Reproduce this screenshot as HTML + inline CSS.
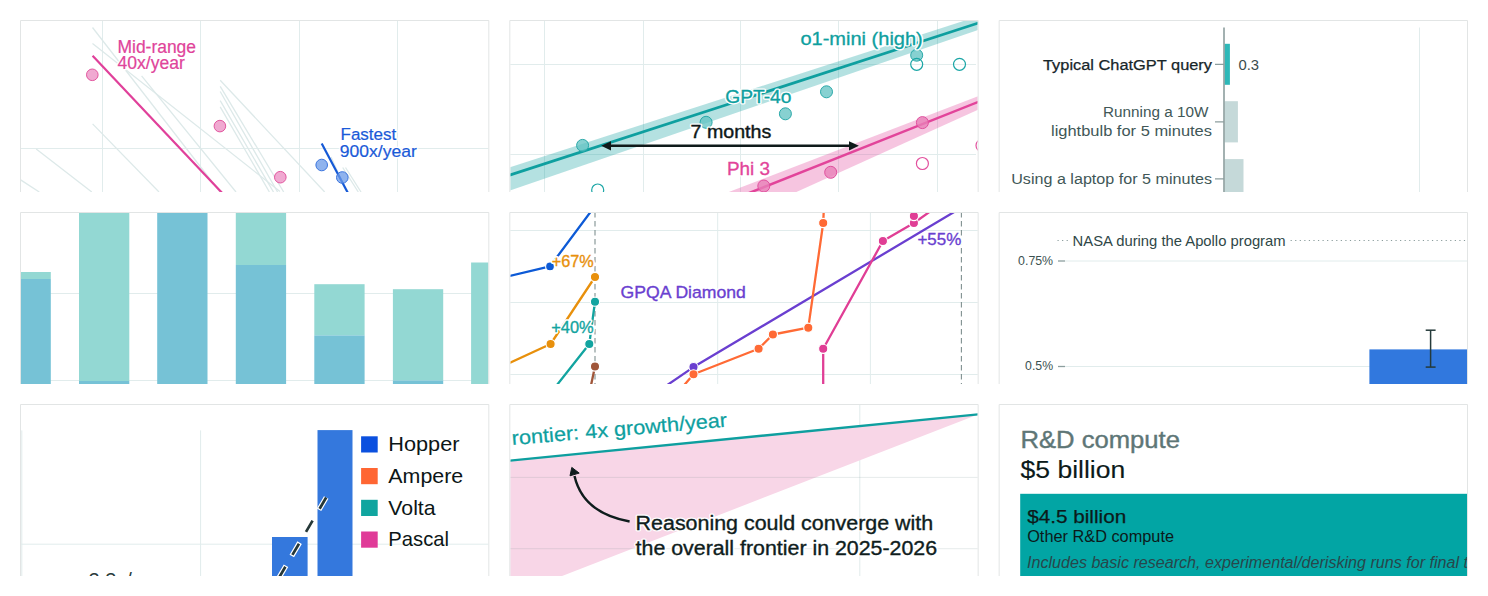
<!DOCTYPE html><html><head><meta charset="utf-8"><style>html,body{margin:0;padding:0;background:#fff;}svg{display:block;font-family:"Liberation Sans",sans-serif;}</style></head><body>
<svg width="1488" height="596" viewBox="0 0 1488 596">
<defs>
<clipPath id="c00"><rect x="21" y="21" width="467.333" height="171"/></clipPath>
<clipPath id="c01"><rect x="510.333" y="21" width="467.334" height="171"/></clipPath>
<clipPath id="c02"><rect x="999.667" y="21" width="467.33299999999997" height="171"/></clipPath>
<clipPath id="c10"><rect x="21" y="213" width="467.333" height="171"/></clipPath>
<clipPath id="c11"><rect x="510.333" y="213" width="467.334" height="171"/></clipPath>
<clipPath id="c12"><rect x="999.667" y="213" width="467.33299999999997" height="171"/></clipPath>
<clipPath id="c20"><rect x="21" y="405" width="467.333" height="171"/></clipPath>
<clipPath id="c21"><rect x="510.333" y="405" width="467.334" height="171"/></clipPath>
<clipPath id="c22"><rect x="999.667" y="405" width="467.33299999999997" height="171"/></clipPath>
</defs>
<rect width="1488" height="596" fill="#fff"/>
<g clip-path="url(#c00)">
<line x1="102.5" y1="20" x2="102.5" y2="192" stroke="#e1ecec" stroke-width="1"/>
<line x1="200.5" y1="20" x2="200.5" y2="192" stroke="#e1ecec" stroke-width="1"/>
<line x1="299.5" y1="20" x2="299.5" y2="192" stroke="#e1ecec" stroke-width="1"/>
<line x1="397.5" y1="20" x2="397.5" y2="192" stroke="#e1ecec" stroke-width="1"/>
<line x1="20" y1="148.5" x2="489" y2="148.5" stroke="#e1ecec" stroke-width="1"/>
<line x1="92.5" y1="27.5" x2="220" y2="192" stroke="#dde9e9" stroke-width="1.3"/>
<line x1="92.5" y1="43.4" x2="280" y2="191.5" stroke="#dde9e9" stroke-width="1.3"/>
<line x1="141.6" y1="75.8" x2="236" y2="192" stroke="#dde9e9" stroke-width="1.3"/>
<line x1="92.6" y1="123.9" x2="159" y2="192" stroke="#dde9e9" stroke-width="1.3"/>
<line x1="36.2" y1="149.1" x2="91.8" y2="192" stroke="#dde9e9" stroke-width="1.3"/>
<line x1="20" y1="179.5" x2="39.3" y2="192" stroke="#dde9e9" stroke-width="1.3"/>
<line x1="220.2" y1="80.2" x2="324.7" y2="192" stroke="#dde9e9" stroke-width="1.3"/>
<line x1="220.2" y1="86.4" x2="283.7" y2="192" stroke="#dde9e9" stroke-width="1.3"/>
<line x1="220.2" y1="91.5" x2="277.6" y2="192" stroke="#dde9e9" stroke-width="1.3"/>
<line x1="220.2" y1="100.7" x2="273.5" y2="192" stroke="#dde9e9" stroke-width="1.3"/>
<line x1="220.2" y1="106.9" x2="269.4" y2="192" stroke="#dde9e9" stroke-width="1.3"/>
<line x1="331" y1="157" x2="347" y2="192" stroke="#dde9e9" stroke-width="1.3"/>
<line x1="342.7" y1="167.5" x2="358.3" y2="192" stroke="#dde9e9" stroke-width="1.3"/>
<line x1="345.5" y1="167.5" x2="361" y2="192" stroke="#dde9e9" stroke-width="1.3"/>
<line x1="92.6" y1="55.7" x2="225" y2="196" stroke="#e0409a" stroke-width="2.2"/>
<circle cx="92.3" cy="74.8" r="5.8" fill="#f0a9d1" stroke="#e2579f" stroke-width="1"/>
<circle cx="219.9" cy="126.1" r="5.8" fill="#f0a9d1" stroke="#e2579f" stroke-width="1"/>
<circle cx="280.3" cy="177.2" r="5.8" fill="#f0a9d1" stroke="#e2579f" stroke-width="1"/>
<line x1="321.7" y1="143.5" x2="349" y2="195" stroke="#1559d6" stroke-width="2.2"/>
<circle cx="321.7" cy="165" r="5.8" fill="#6a9ae8" fill-opacity="0.75" stroke="#3a74de" stroke-width="1"/>
<circle cx="342.3" cy="177.5" r="5.8" fill="#6a9ae8" fill-opacity="0.75" stroke="#3a74de" stroke-width="1"/>
<text x="117.5" y="52.8" font-size="17.5" fill="#e0449a" textLength="78.5" lengthAdjust="spacingAndGlyphs" stroke="#fff" stroke-width="3" stroke-linejoin="round" >Mid-range</text>
<text x="117.5" y="52.8" font-size="17.5" fill="#e0449a" textLength="78.5" lengthAdjust="spacingAndGlyphs" stroke="#e0449a" stroke-width="0.2" >Mid-range</text>
<text x="117.5" y="69.4" font-size="17.5" fill="#e0449a" textLength="67.3" lengthAdjust="spacingAndGlyphs" stroke="#fff" stroke-width="3" stroke-linejoin="round" >40x/year</text>
<text x="117.5" y="69.4" font-size="17.5" fill="#e0449a" textLength="67.3" lengthAdjust="spacingAndGlyphs" stroke="#e0449a" stroke-width="0.2" >40x/year</text>
<text x="340.5" y="139.7" font-size="16.8" fill="#1a5ad8" textLength="55.8" lengthAdjust="spacingAndGlyphs" stroke="#fff" stroke-width="3" stroke-linejoin="round" >Fastest</text>
<text x="340.5" y="139.7" font-size="16.8" fill="#1a5ad8" textLength="55.8" lengthAdjust="spacingAndGlyphs" stroke="#1a5ad8" stroke-width="0.2" >Fastest</text>
<text x="339.8" y="157" font-size="16.8" fill="#1a5ad8" textLength="77" lengthAdjust="spacingAndGlyphs" stroke="#fff" stroke-width="3" stroke-linejoin="round" >900x/year</text>
<text x="339.8" y="157" font-size="16.8" fill="#1a5ad8" textLength="77" lengthAdjust="spacingAndGlyphs" stroke="#1a5ad8" stroke-width="0.2" >900x/year</text>
</g>
<g clip-path="url(#c01)">
<line x1="544.5" y1="20" x2="544.5" y2="192" stroke="#e1ecec" stroke-width="1"/>
<line x1="643.5" y1="20" x2="643.5" y2="192" stroke="#e1ecec" stroke-width="1"/>
<line x1="740.5" y1="20" x2="740.5" y2="192" stroke="#e1ecec" stroke-width="1"/>
<line x1="838.5" y1="20" x2="838.5" y2="192" stroke="#e1ecec" stroke-width="1"/>
<line x1="937.5" y1="20" x2="937.5" y2="192" stroke="#e1ecec" stroke-width="1"/>
<line x1="509" y1="64.5" x2="976" y2="64.5" stroke="#e1ecec" stroke-width="1"/>
<line x1="509" y1="154.5" x2="976" y2="154.5" stroke="#e1ecec" stroke-width="1"/>
<polygon points="510,167.2 978,16.3 978,30 510,190.4" fill="#0e9f9f" fill-opacity="0.31"/>
<polygon points="728.8,192 978,96.3 978,109.8 796.4,191.9" fill="#e2449a" fill-opacity="0.31"/>
<line x1="505" y1="176.6" x2="980" y2="22.5" stroke="#0e9f9f" stroke-width="2.7"/>
<line x1="741" y1="196.2" x2="980" y2="101.2" stroke="#e2449a" stroke-width="2.5"/>
<circle cx="582.6" cy="145.4" r="6" fill="#5fc1c1" fill-opacity="0.75" stroke="#2aa9a9" stroke-width="1"/>
<circle cx="706.1" cy="122.3" r="6" fill="#5fc1c1" fill-opacity="0.75" stroke="#2aa9a9" stroke-width="1"/>
<circle cx="785.4" cy="113.8" r="6" fill="#5fc1c1" fill-opacity="0.75" stroke="#2aa9a9" stroke-width="1"/>
<circle cx="826.5" cy="91.8" r="6" fill="#5fc1c1" fill-opacity="0.75" stroke="#2aa9a9" stroke-width="1"/>
<circle cx="916.7" cy="55.2" r="6" fill="#5fc1c1" fill-opacity="0.75" stroke="#2aa9a9" stroke-width="1"/>
<circle cx="597.7" cy="190" r="6" fill="none" stroke="#1ba6a6" stroke-width="1.2"/>
<circle cx="916.7" cy="64.3" r="6" fill="none" stroke="#1ba6a6" stroke-width="1.2"/>
<circle cx="959.5" cy="64.3" r="6" fill="none" stroke="#1ba6a6" stroke-width="1.2"/>
<circle cx="763.8" cy="186" r="6" fill="#e880b8" fill-opacity="0.8" stroke="#e0509e" stroke-width="1"/>
<circle cx="830.7" cy="172.3" r="6" fill="#e880b8" fill-opacity="0.8" stroke="#e0509e" stroke-width="1"/>
<circle cx="922.4" cy="122.6" r="6" fill="#e880b8" fill-opacity="0.8" stroke="#e0509e" stroke-width="1"/>
<circle cx="922.4" cy="163.5" r="6" fill="none" stroke="#e2509e" stroke-width="1.2"/>
<circle cx="982" cy="145.5" r="6" fill="none" stroke="#e2509e" stroke-width="1.2"/>
<line x1="608" y1="145.8" x2="851" y2="145.8" stroke="#0f1a1a" stroke-width="2.4"/>
<polygon points="601.2,145.8 611,141.2 611,150.4" fill="#0f1a1a"/>
<polygon points="858.9,145.8 849,141.2 849,150.4" fill="#0f1a1a"/>
<text x="800.4" y="44.5" font-size="18" fill="#0e9f9f" textLength="122.4" lengthAdjust="spacingAndGlyphs" stroke="#fff" stroke-width="3" stroke-linejoin="round" >o1-mini (high)</text>
<text x="800.4" y="44.5" font-size="18" fill="#0e9f9f" textLength="122.4" lengthAdjust="spacingAndGlyphs" stroke="#0e9f9f" stroke-width="0.3" >o1-mini (high)</text>
<text x="725.3" y="102.9" font-size="17.5" fill="#0e9f9f" textLength="66.2" lengthAdjust="spacingAndGlyphs" stroke="#fff" stroke-width="3" stroke-linejoin="round" >GPT-4o</text>
<text x="725.3" y="102.9" font-size="17.5" fill="#0e9f9f" textLength="66.2" lengthAdjust="spacingAndGlyphs" stroke="#0e9f9f" stroke-width="0.3" >GPT-4o</text>
<text x="690.6" y="137.6" font-size="18" fill="#0f1818" textLength="80.7" lengthAdjust="spacingAndGlyphs" stroke="#fff" stroke-width="3" stroke-linejoin="round" >7 months</text>
<text x="690.6" y="137.6" font-size="18" fill="#0f1818" textLength="80.7" lengthAdjust="spacingAndGlyphs" stroke="#0f1818" stroke-width="0.4" >7 months</text>
<text x="727" y="175.2" font-size="17.5" fill="#e2449a" textLength="43" lengthAdjust="spacingAndGlyphs" stroke="#fff" stroke-width="3" stroke-linejoin="round" >Phi 3</text>
<text x="727" y="175.2" font-size="17.5" fill="#e2449a" textLength="43" lengthAdjust="spacingAndGlyphs" stroke="#e2449a" stroke-width="0.3" >Phi 3</text>
</g>
<g clip-path="url(#c02)">
<line x1="1419.5" y1="27.5" x2="1419.5" y2="192" stroke="#e1ecec" stroke-width="1"/>
<rect x="1224.5" y="43.8" width="5.4" height="41" fill="#2db8b8"/>
<rect x="1224.5" y="101.2" width="13.4" height="41.2" fill="#c5d9d9"/>
<rect x="1224.5" y="159.1" width="19" height="40" fill="#c5d9d9"/>
<line x1="1224" y1="27.5" x2="1224" y2="192" stroke="#8c9e9e" stroke-width="1.6"/>
<line x1="1215" y1="64.4" x2="1224" y2="64.4" stroke="#8c9e9e" stroke-width="1.3"/>
<line x1="1215" y1="121.8" x2="1224" y2="121.8" stroke="#8c9e9e" stroke-width="1.3"/>
<line x1="1215" y1="178.9" x2="1224" y2="178.9" stroke="#8c9e9e" stroke-width="1.3"/>
<text x="1043" y="69.7" font-size="15.5" fill="#18262a" textLength="169" lengthAdjust="spacingAndGlyphs" stroke="#18262a" stroke-width="0.25" >Typical ChatGPT query</text>
<text x="1238.4" y="69.7" font-size="15.5" fill="#3b4d4d" textLength="20.6" lengthAdjust="spacingAndGlyphs" >0.3</text>
<text x="1103" y="117.3" font-size="15.5" fill="#415757" textLength="105.4" lengthAdjust="spacingAndGlyphs" >Running a 10W</text>
<text x="1051" y="136.1" font-size="15.5" fill="#415757" textLength="161" lengthAdjust="spacingAndGlyphs" >lightbulb for 5 minutes</text>
<text x="1011.2" y="184.2" font-size="15.5" fill="#415757" textLength="200.8" lengthAdjust="spacingAndGlyphs" >Using a laptop for 5 minutes</text>
</g>
<g clip-path="url(#c10)">
<line x1="20" y1="293.5" x2="489" y2="293.5" stroke="#e1ecec" stroke-width="1"/>
<line x1="20" y1="380.5" x2="489" y2="380.5" stroke="#e1ecec" stroke-width="1"/>
<rect x="0.5" y="272" width="50.3" height="7" fill="#93d8d3"/>
<rect x="0.5" y="279" width="50.3" height="121" fill="#76c2d6"/>
<rect x="79" y="212" width="50.3" height="169" fill="#93d8d3"/>
<rect x="79" y="381" width="50.3" height="19" fill="#76c2d6"/>
<rect x="157.2" y="212" width="50.3" height="0" fill="#93d8d3"/>
<rect x="157.2" y="212" width="50.3" height="188" fill="#76c2d6"/>
<rect x="235.8" y="212" width="50.3" height="53" fill="#93d8d3"/>
<rect x="235.8" y="265" width="50.3" height="135" fill="#76c2d6"/>
<rect x="314.3" y="284.2" width="50.3" height="51.19999999999999" fill="#93d8d3"/>
<rect x="314.3" y="335.4" width="50.3" height="64.60000000000002" fill="#76c2d6"/>
<rect x="392.9" y="289.2" width="50.3" height="91.30000000000001" fill="#93d8d3"/>
<rect x="392.9" y="380.5" width="50.3" height="19.5" fill="#76c2d6"/>
<rect x="471.1" y="262.5" width="50.3" height="137.5" fill="#93d8d3"/>
<rect x="471.1" y="400" width="50.3" height="0" fill="#76c2d6"/>
</g>
<g clip-path="url(#c11)">
<line x1="509" y1="230.5" x2="979" y2="230.5" stroke="#e1ecec" stroke-width="1"/>
<line x1="509" y1="302.5" x2="979" y2="302.5" stroke="#e1ecec" stroke-width="1"/>
<line x1="509" y1="374.5" x2="979" y2="374.5" stroke="#e1ecec" stroke-width="1"/>
<line x1="717.7" y1="212" x2="717.7" y2="384" stroke="#e1ecec" stroke-width="1"/>
<line x1="870.4" y1="212" x2="870.4" y2="384" stroke="#e1ecec" stroke-width="1"/>
<line x1="595" y1="212" x2="595" y2="384" stroke="#7f9090" stroke-width="1.1" stroke-dasharray="5.5 3.5"/>
<line x1="961.4" y1="212" x2="961.4" y2="384" stroke="#7f9090" stroke-width="1.1" stroke-dasharray="5.5 3.5"/>
<polyline points="505,277 550,266.4 592,210" fill="none" stroke="#0d5ad6" stroke-width="2.3" stroke-linejoin="round"/>
<circle cx="550" cy="266.4" r="4.4" fill="#0d5ad6" stroke="#fff" stroke-width="1.1"/>
<polyline points="505,365 550.6,344 595,277" fill="none" stroke="#e8900c" stroke-width="2.3" stroke-linejoin="round"/>
<circle cx="550.6" cy="344" r="4.6" fill="#e8900c" stroke="#fff" stroke-width="1.1"/>
<circle cx="595" cy="277" r="4.6" fill="#e8900c" stroke="#fff" stroke-width="1.1"/>
<polyline points="553,390 589.3,344 595,301.7" fill="none" stroke="#12a4a0" stroke-width="2.3" stroke-linejoin="round"/>
<circle cx="589.3" cy="344" r="4.6" fill="#12a4a0" stroke="#fff" stroke-width="1.1"/>
<circle cx="595" cy="301.7" r="4.6" fill="#12a4a0" stroke="#fff" stroke-width="1.1"/>
<polyline points="590,390 595,366.5" fill="none" stroke="#a0563a" stroke-width="2.3" stroke-linejoin="round"/>
<circle cx="595" cy="366.5" r="4.6" fill="#a0563a" stroke="#fff" stroke-width="1.1"/>
<polyline points="660,390 693.5,367.1 960,208.5" fill="none" stroke="#6a3fd0" stroke-width="2.3" stroke-linejoin="round"/>
<circle cx="693.5" cy="367.1" r="4.6" fill="#6a3fd0" stroke="#fff" stroke-width="1.1"/>
<polyline points="680,390 693.5,374.3 758.6,348.8 772.9,334.5 808.3,327.7 823.2,223 824,205" fill="none" stroke="#ff6a35" stroke-width="2.3" stroke-linejoin="round"/>
<circle cx="693.5" cy="374.3" r="4.6" fill="#ff6a35" stroke="#fff" stroke-width="1.1"/>
<circle cx="758.6" cy="348.8" r="4.6" fill="#ff6a35" stroke="#fff" stroke-width="1.1"/>
<circle cx="772.9" cy="334.5" r="4.6" fill="#ff6a35" stroke="#fff" stroke-width="1.1"/>
<circle cx="808.3" cy="327.7" r="4.6" fill="#ff6a35" stroke="#fff" stroke-width="1.1"/>
<circle cx="823.2" cy="223" r="4.6" fill="#ff6a35" stroke="#fff" stroke-width="1.1"/>
<polyline points="823.2,390 823.2,348.8 882.9,241 913.9,223 935,208" fill="none" stroke="#e03e95" stroke-width="2.3" stroke-linejoin="round"/>
<circle cx="823.2" cy="348.8" r="4.6" fill="#e03e95" stroke="#fff" stroke-width="1.1"/>
<circle cx="882.9" cy="241" r="4.6" fill="#e03e95" stroke="#fff" stroke-width="1.1"/>
<circle cx="913.9" cy="223" r="4.6" fill="#e03e95" stroke="#fff" stroke-width="1.1"/>
<circle cx="913.9" cy="216" r="4.6" fill="#e03e95" stroke="#fff" stroke-width="1.1"/>
<text x="551.8" y="267" font-size="17" fill="#e8900c" textLength="42" lengthAdjust="spacingAndGlyphs" stroke="#fff" stroke-width="3.5" stroke-linejoin="round" >+67%</text>
<text x="551.8" y="267" font-size="17" fill="#e8900c" textLength="42" lengthAdjust="spacingAndGlyphs" stroke="#e8900c" stroke-width="0.35" >+67%</text>
<text x="551.3" y="332.5" font-size="17" fill="#12a4a0" textLength="42.4" lengthAdjust="spacingAndGlyphs" stroke="#fff" stroke-width="3.5" stroke-linejoin="round" >+40%</text>
<text x="551.3" y="332.5" font-size="17" fill="#12a4a0" textLength="42.4" lengthAdjust="spacingAndGlyphs" stroke="#12a4a0" stroke-width="0.35" >+40%</text>
<text x="917.4" y="245.4" font-size="17" fill="#6a3fd0" textLength="43.9" lengthAdjust="spacingAndGlyphs" stroke="#fff" stroke-width="3.5" stroke-linejoin="round" >+55%</text>
<text x="917.4" y="245.4" font-size="17" fill="#6a3fd0" textLength="43.9" lengthAdjust="spacingAndGlyphs" stroke="#6a3fd0" stroke-width="0.35" >+55%</text>
<text x="620.6" y="297.8" font-size="16.9" fill="#6a3fd0" textLength="125.3" lengthAdjust="spacingAndGlyphs" stroke="#fff" stroke-width="3" stroke-linejoin="round" >GPQA Diamond</text>
<text x="620.6" y="297.8" font-size="16.9" fill="#6a3fd0" textLength="125.3" lengthAdjust="spacingAndGlyphs" stroke="#6a3fd0" stroke-width="0.35" >GPQA Diamond</text>
</g>
<g clip-path="url(#c12)">
<line x1="1065" y1="261" x2="1468" y2="261" stroke="#e1ecec" stroke-width="1"/>
<line x1="1065" y1="366.5" x2="1468" y2="366.5" stroke="#e1ecec" stroke-width="1"/>
<line x1="1058" y1="261" x2="1065" y2="261" stroke="#8c9e9e" stroke-width="1.3"/>
<line x1="1058" y1="366.5" x2="1065" y2="366.5" stroke="#8c9e9e" stroke-width="1.3"/>
<line x1="1057.5" y1="240.5" x2="1069" y2="240.5" stroke="#8a9c9c" stroke-width="1" stroke-dasharray="1.2 3.36"/>
<line x1="1290.6" y1="240.5" x2="1468" y2="240.5" stroke="#8a9c9c" stroke-width="1" stroke-dasharray="1.2 3.36"/>
<text x="1018.1" y="265.3" font-size="13.3" fill="#3b5151" textLength="35" lengthAdjust="spacingAndGlyphs" >0.75%</text>
<text x="1025.1" y="370.4" font-size="13.3" fill="#3b5151" textLength="28" lengthAdjust="spacingAndGlyphs" >0.5%</text>
<text x="1072.6" y="245.9" font-size="14.8" fill="#2f4747" textLength="213" lengthAdjust="spacingAndGlyphs" >NASA during the Apollo program</text>
<rect x="1369.4" y="349.4" width="100" height="40" fill="#3178de"/>
<line x1="1430.6" y1="330.2" x2="1430.6" y2="367.1" stroke="#253a3a" stroke-width="1.5"/>
<line x1="1425.7" y1="330.2" x2="1435.6" y2="330.2" stroke="#253a3a" stroke-width="1.5"/>
<line x1="1425.7" y1="367.1" x2="1435.6" y2="367.1" stroke="#253a3a" stroke-width="1.5"/>
</g>
<g clip-path="url(#c20)">
<line x1="21.8" y1="430.4" x2="21.8" y2="576" stroke="#e1ecec" stroke-width="1"/>
<line x1="200.6" y1="430.4" x2="200.6" y2="576" stroke="#e1ecec" stroke-width="1"/>
<line x1="21" y1="544.2" x2="489" y2="544.2" stroke="#e1ecec" stroke-width="1"/>
<rect x="272" y="537" width="35.6" height="50" fill="#3478dd"/>
<rect x="317.5" y="430.1" width="35" height="160" fill="#3478dd"/>
<path d="M265.2,601.1 L326.2,497.5" fill="none" stroke="#fff" stroke-width="5.2" stroke-dasharray="15.4 11.4" stroke-dashoffset="1.2"/>
<path d="M265.2,601.1 L326.2,497.5" fill="none" stroke="#263838" stroke-width="2.7" stroke-dasharray="13 13.8"/>
<rect x="361.1" y="436.3" width="16.6" height="16.2" fill="#0b50df"/>
<rect x="361.1" y="468" width="16.6" height="16.2" fill="#ff6633"/>
<rect x="361.1" y="499.8" width="16.6" height="16.2" fill="#10a59f"/>
<rect x="361.1" y="531.5" width="16.6" height="16.2" fill="#e03b98"/>
<text x="388.3" y="450.8" font-size="20.4" fill="#0c1616" textLength="71.2" lengthAdjust="spacingAndGlyphs" >Hopper</text>
<text x="388.3" y="482.9" font-size="20.4" fill="#0c1616" textLength="74.9" lengthAdjust="spacingAndGlyphs" >Ampere</text>
<text x="388.3" y="514.6" font-size="20.4" fill="#0c1616" textLength="47.3" lengthAdjust="spacingAndGlyphs" >Volta</text>
<text x="388.3" y="546.2" font-size="20.4" fill="#0c1616" textLength="60.7" lengthAdjust="spacingAndGlyphs" >Pascal</text>
<text x="88.5" y="586.5" font-size="20" fill="#2a3c3c" >2.3x/year</text>
</g>
<g clip-path="url(#c21)">
<line x1="859.8" y1="404" x2="859.8" y2="576" stroke="#e1ecec" stroke-width="1"/>
<polygon points="505,461.1 978,414.4 562.1,576 505,576" fill="#f8d6e7"/>
<line x1="509" y1="477.4" x2="979" y2="477.4" stroke="#6a8a8a" stroke-opacity="0.17" stroke-width="1" />
<line x1="509" y1="548.7" x2="979" y2="548.7" stroke="#6a8a8a" stroke-opacity="0.17" stroke-width="1" />
<line x1="505" y1="461.1" x2="980" y2="414.2" stroke="#0e9f9f" stroke-width="2.4"/>
<g transform="translate(512.3 445.1) rotate(-4.9)">
<text x="0" y="0" font-size="20" fill="#0e9f9f" textLength="216" lengthAdjust="spacingAndGlyphs" stroke="#0e9f9f" stroke-width="0.25" >rontier: 4x growth/year</text>
</g>
<path d="M629.6,521.5 Q583,513 574.5,476" fill="none" stroke="#0f1d1d" stroke-width="2.4"/>
<polygon points="571.8,467.4 570,475.8 579.2,473.1" fill="#0f1d1d" stroke="#0f1d1d" stroke-width="1" stroke-linejoin="round"/>
<text x="635.6" y="529.9" font-size="19.4" fill="#0f1d1d" textLength="297.6" lengthAdjust="spacingAndGlyphs" stroke="#fff" stroke-width="3" stroke-linejoin="round" >Reasoning could converge with</text>
<text x="635.6" y="529.9" font-size="19.4" fill="#0f1d1d" textLength="297.6" lengthAdjust="spacingAndGlyphs" stroke="#0f1d1d" stroke-width="0.35" >Reasoning could converge with</text>
<text x="635.6" y="555" font-size="19.4" fill="#0f1d1d" textLength="301.5" lengthAdjust="spacingAndGlyphs" stroke="#fff" stroke-width="3" stroke-linejoin="round" >the overall frontier in 2025-2026</text>
<text x="635.6" y="555" font-size="19.4" fill="#0f1d1d" textLength="301.5" lengthAdjust="spacingAndGlyphs" stroke="#0f1d1d" stroke-width="0.35" >the overall frontier in 2025-2026</text>
</g>
<g clip-path="url(#c22)">
<text x="1020.5" y="447.6" font-size="24.5" fill="#5e7676" textLength="159.5" lengthAdjust="spacingAndGlyphs" stroke="#5e7676" stroke-width="0.4" >R&amp;D compute</text>
<text x="1020.5" y="477.7" font-size="24.6" fill="#0c1a1a" textLength="104.8" lengthAdjust="spacingAndGlyphs" stroke="#0c1a1a" stroke-width="0.15" >$5 billion</text>
<rect x="1020.2" y="493.8" width="460" height="90" fill="#02a5a4"/>
<text x="1027.2" y="522.5" font-size="18.3" fill="#0c1a1a" textLength="99" lengthAdjust="spacingAndGlyphs" stroke="#0c1a1a" stroke-width="0.25" >$4.5 billion</text>
<text x="1027.2" y="541.6" font-size="15.7" fill="#0c1a1a" textLength="146.8" lengthAdjust="spacingAndGlyphs" >Other R&amp;D compute</text>
<text x="1027" y="567.6" font-size="15.6" fill="#27474b" textLength="441" lengthAdjust="spacingAndGlyphs" font-style="italic" >Includes basic research, experimental/derisking runs for final t</text>
</g>
<path d="M20.5,192 V20.5 H488.833 V192" fill="none" stroke="#e2e5e5" stroke-width="1"/>
<path d="M509.833,192 V20.5 H978.167 V192" fill="none" stroke="#e2e5e5" stroke-width="1"/>
<path d="M999.167,192 V20.5 H1467.5 V192" fill="none" stroke="#e2e5e5" stroke-width="1"/>
<path d="M20.5,384 V212.5 H488.833 V384" fill="none" stroke="#e2e5e5" stroke-width="1"/>
<path d="M509.833,384 V212.5 H978.167 V384" fill="none" stroke="#e2e5e5" stroke-width="1"/>
<path d="M999.167,384 V212.5 H1467.5 V384" fill="none" stroke="#e2e5e5" stroke-width="1"/>
<path d="M20.5,576 V404.5 H488.833 V576" fill="none" stroke="#e2e5e5" stroke-width="1"/>
<path d="M509.833,576 V404.5 H978.167 V576" fill="none" stroke="#e2e5e5" stroke-width="1"/>
<path d="M999.167,576 V404.5 H1467.5 V576" fill="none" stroke="#e2e5e5" stroke-width="1"/>
</svg></body></html>
